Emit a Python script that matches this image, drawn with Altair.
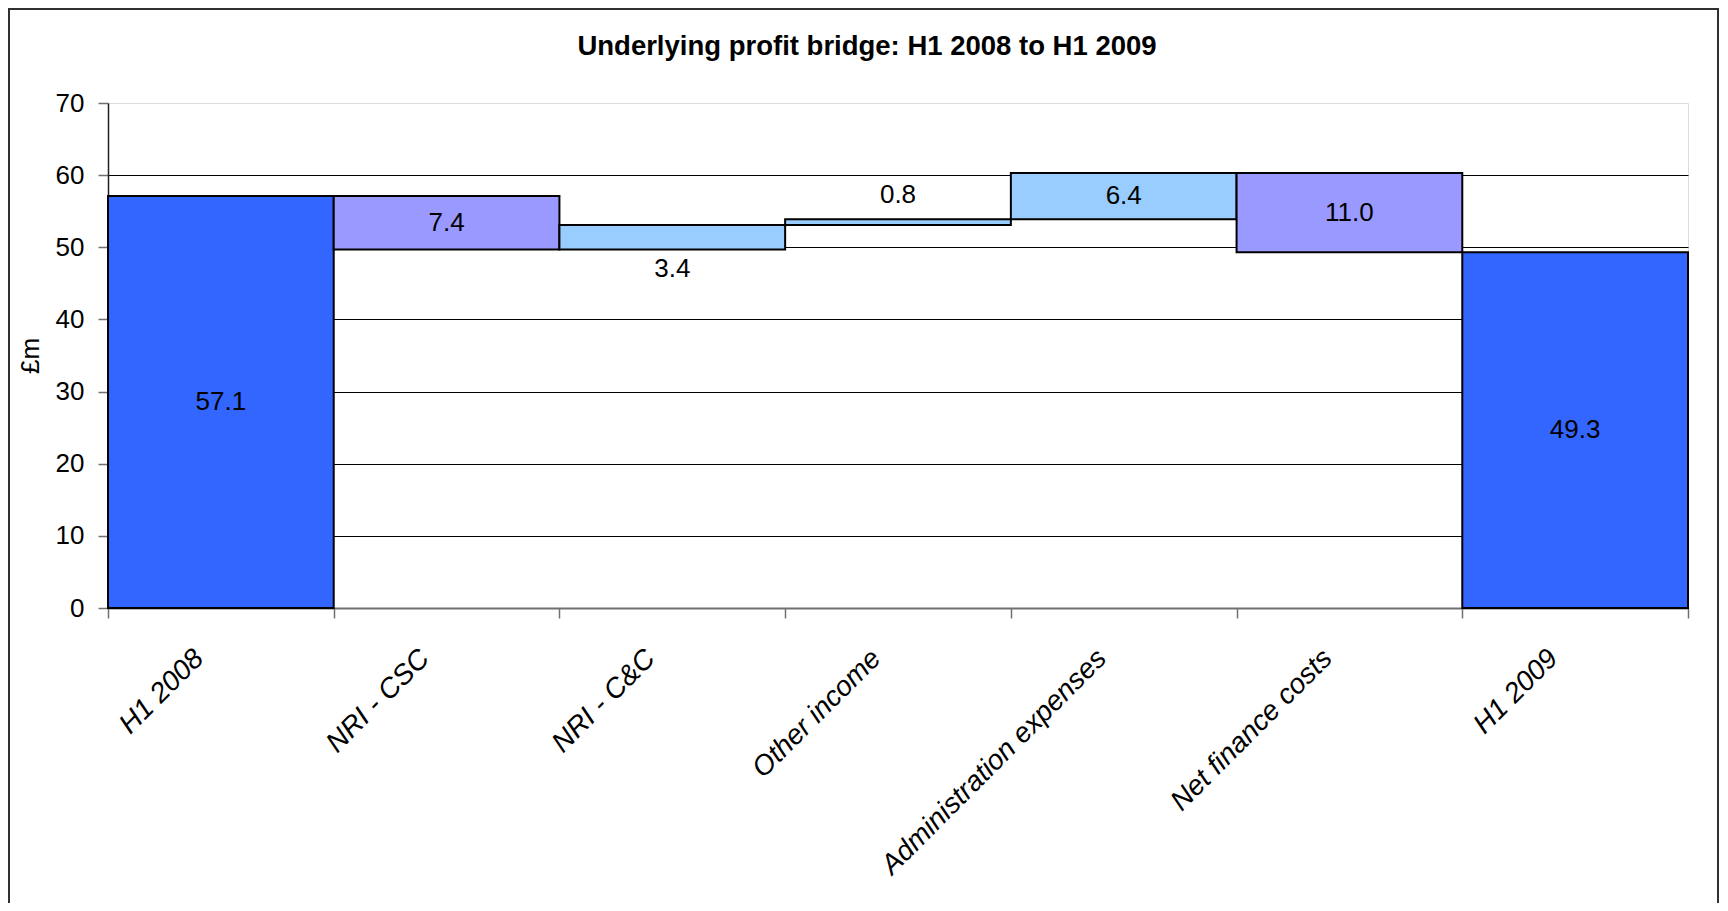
import altair as alt
import pandas as pd

categories = ["H1 2008", "NRI - CSC", "NRI - C&C", "Other income",
              "Administration expenses", "Net finance costs", "H1 2009"]
values = [57.1, -7.4, 3.4, 0.8, 6.4, -11.0, 49.3]
kinds = ["total", "decrease", "increase", "increase", "increase", "decrease", "total"]
labels = ["57.1", "7.4", "3.4", "0.8", "6.4", "11.0", "49.3"]
placement = ["center", "center", "below", "above", "center", "center", "center"]
y_ticks = [0, 10, 20, 30, 40, 50, 60, 70]

rows = []
running = 0.0
for cat, v, k, lab, pl in zip(categories, values, kinds, labels, placement):
    if k == "total":
        lo, hi = 0.0, v
        running = v
    else:
        start = running
        running = running + v
        lo, hi = min(start, running), max(start, running)
    rows.append({"category": cat, "lo": lo, "hi": hi, "mid": (lo + hi) / 2,
                 "kind": k, "label": lab, "placement": pl})
df = pd.DataFrame(rows)

FONT = "Liberation Sans"

x_enc = alt.X(
    "category:N", sort=categories,
    scale=alt.Scale(paddingInner=0, paddingOuter=0),
    axis=alt.Axis(title=None, labelAngle=-45, labelAlign="right", labelBaseline="middle",
                  labelPadding=36, labelOffset=-22, labelFontSize=28, labelFont=FONT,
                  labelFontStyle="italic",
                  labelColor="black", tickBand="extent", tickSize=10, tickColor="#707070",
                  tickWidth=1.5, domainColor="#707070", domainWidth=2, grid=False,
                  labelLimit=500),
)

bars = alt.Chart(df).mark_bar(stroke="black", strokeWidth=2).encode(
    x=x_enc,
    y=alt.Y("lo:Q", scale=alt.Scale(domain=[0, 70], nice=False),
            axis=alt.Axis(values=y_ticks, title="£m", titleFontSize=26, titleFont=FONT,
                          titleFontWeight="normal", titleColor="black", titlePadding=12,
                          labelFontSize=26, labelFont=FONT, labelColor="black",
                          labelPadding=14, tickSize=10, tickColor="#707070", tickWidth=1.5,
                          domainColor="#202020", domainWidth=1.5,
                          gridColor="black", gridWidth=1,
                          gridOpacity={"condition": {"test": "datum.value === 0 || datum.value === 70",
                                                     "value": 0}, "value": 1})),
    y2="hi:Q",
    color=alt.Color("kind:N",
                    scale=alt.Scale(domain=["total", "decrease", "increase"],
                                    range=["#3366FF", "#9999FF", "#99CCFF"]),
                    legend=None),
)

def text_layer(pl, field, dy):
    return alt.Chart(df).transform_filter(alt.datum.placement == pl).mark_text(
        fontSize=26, font=FONT, color="black", baseline="middle", align="center", dy=dy
    ).encode(x=alt.X("category:N", sort=categories), y=alt.Y(f"{field}:Q"), text="label:N")

t_center = text_layer("center", "mid", 0)
t_below = text_layer("below", "lo", 20)
t_above = text_layer("above", "hi", -24)

one = pd.DataFrame({"a": [1]})
frame_left = alt.Chart(one).mark_rule(stroke="#303030", strokeWidth=2).encode(
    x=alt.value(-99), y=alt.value(-94), y2=alt.value(900))
frame_right = alt.Chart(one).mark_rule(stroke="#303030", strokeWidth=2).encode(
    x=alt.value(1610), y=alt.value(-94), y2=alt.value(900))
frame_top = alt.Chart(one).mark_rule(stroke="#303030", strokeWidth=2).encode(
    x=alt.value(-100), x2=alt.value(1611), y=alt.value(-94))

chart = alt.layer(bars, t_center, t_below, t_above, frame_left, frame_right, frame_top).properties(
    width=1580, height=505,
    title=alt.TitleParams("Underlying profit bridge: H1 2008 to H1 2009", fontSize=27.5,
                          font=FONT, fontWeight="bold", color="black", anchor="middle",
                          frame="group", offset=40, dx=-31, dy=92),
    autosize=alt.AutoSizeParams(type="none"),
    padding={"left": 100, "top": 95, "right": 32, "bottom": 295},
).configure_view(stroke="#808080", strokeWidth=2).configure(background="white")

chart.save("out.html", embed_options={"renderer": "svg", "actions": False})
